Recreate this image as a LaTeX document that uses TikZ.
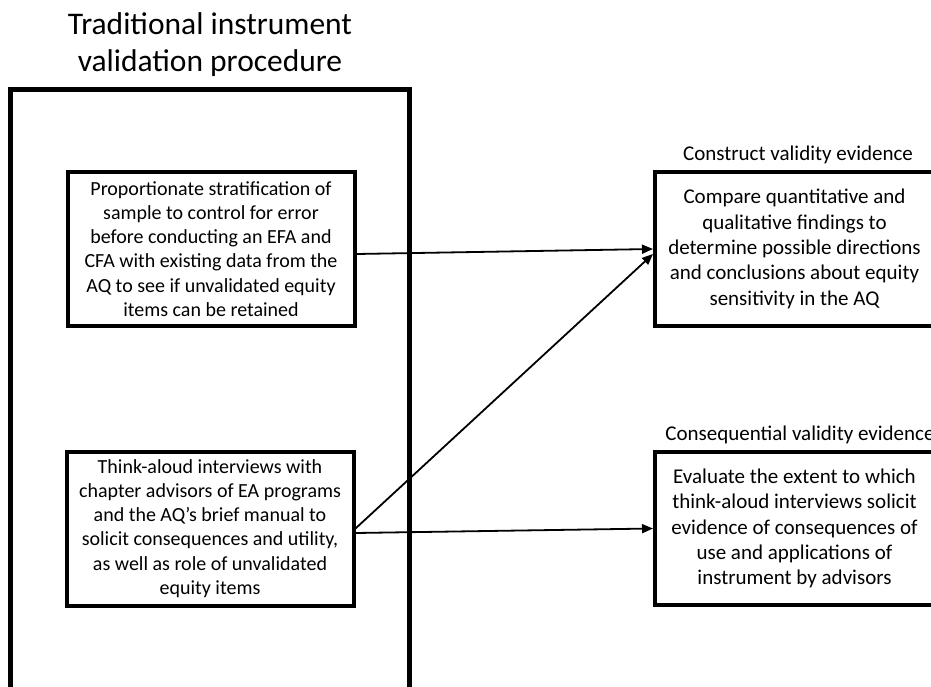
\documentclass[tikz,border=0pt]{standalone}
\usepackage{fontspec}
\setmainfont{Carlito}
\usetikzlibrary{arrows.meta}
\tikzset{
  frame/.style={draw, line width=5pt, inner sep=0pt},
  leftbox/.style={draw, line width=4pt, align=center, inner sep=0pt,
    minimum width=287pt, minimum height=154pt,
    font=\fontsize{20}{24.2}\selectfont},
  rightbox/.style={draw, line width=4pt, align=center, inner sep=0pt,
    minimum width=279pt, minimum height=153pt,
    font=\fontsize{21}{25.3}\selectfont},
  boxlabel/.style={inner sep=0pt, font=\fontsize{21}{24}\selectfont},
  arr/.style={line width=1.8pt, -{Triangle[length=11pt,width=9pt]}}
}
\begin{document}
\begin{tikzpicture}[x=1pt,y=-1pt]
\useasboundingbox (0,0) rectangle (931,687);
\clip (0,0) rectangle (931,687);
\fill[white] (0,0) rectangle (931,687);
\node[align=center, inner sep=0pt, font=\fontsize{31.5}{37}\selectfont] (t) at (210,45) {Traditional instrument\\validation procedure};
\node[frame, minimum width=399pt, minimum height=620pt] (o) at (209.5,399.5) {};
\node[leftbox] (a) at (211,249) {Proportionate stratification of\\sample to control for error\\before conducting an EFA and\\CFA with existing data from the\\AQ to see if unvalidated equity\\items can be retained};
\node[leftbox] (b) at (210,528.5) {Think-aloud interviews with\\chapter advisors of EA programs\\and the AQ’s brief manual to\\solicit consequences and utility,\\as well as role of unvalidated\\equity items};
\node[rightbox] (c) at (794.5,249) {Compare quantitative and\\qualitative findings to\\determine possible directions\\and conclusions about equity\\sensitivity in the AQ};
\node[rightbox] (d) at (794.5,528.5) {Evaluate the extent to which\\think-aloud interviews solicit\\evidence of consequences of\\use and applications of\\instrument by advisors};
\node[boxlabel] (cl) at (798,155) {Construct validity evidence};
\node[boxlabel] (dl) at (800,435) {Consequential validity evidence};
\draw[arr] ([yshift=-5pt]a.east) -- (c.west);
\draw[arr] (b.east) -- ([yshift=-5pt]c.west);
\draw[arr] ([yshift=-4.5pt]b.east) -- (d.west);
\end{tikzpicture}
\end{document}
